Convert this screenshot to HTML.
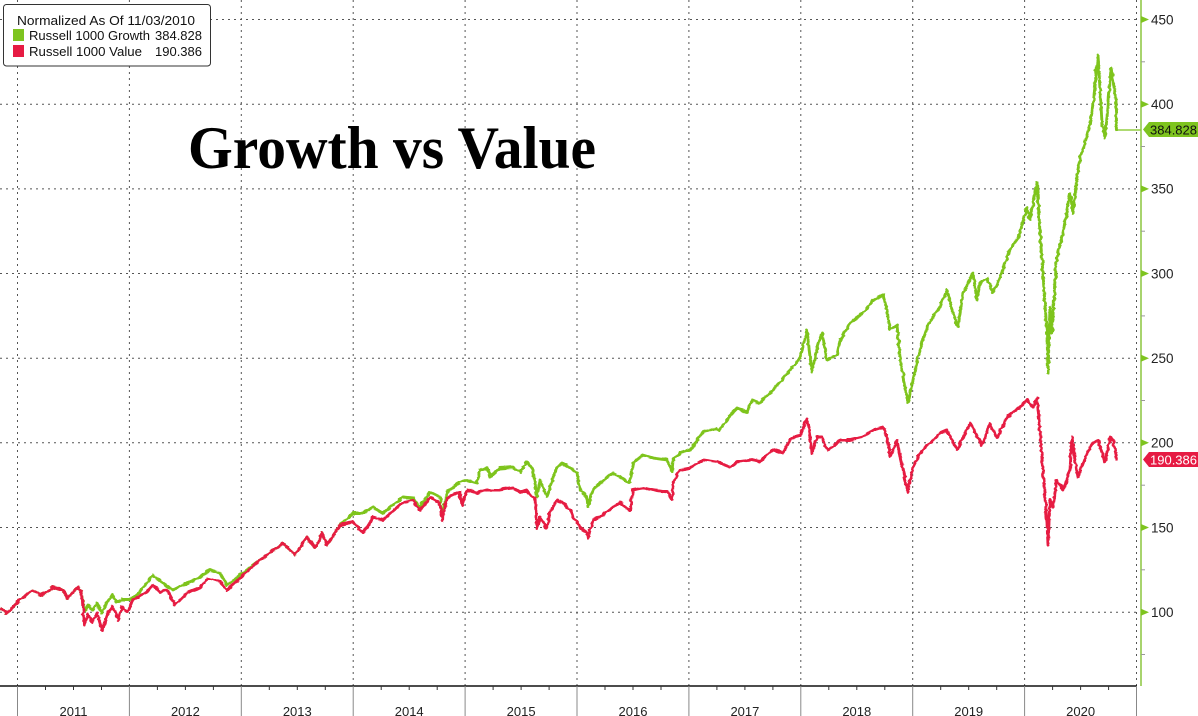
<!DOCTYPE html>
<html><head><meta charset="utf-8"><style>
html,body{margin:0;padding:0;background:#fff;}
svg{display:block;}
text{font-family:"Liberation Sans",sans-serif;}
</style></head><body>
<svg width="1198" height="716" viewBox="0 0 1198 716" xmlns="http://www.w3.org/2000/svg">
<defs>
<filter id="jit" x="-2%" y="-10%" width="104%" height="120%" filterUnits="objectBoundingBox">
<feTurbulence type="fractalNoise" baseFrequency="0.08 0.25" numOctaves="2" seed="4" result="n"/>
<feDisplacementMap in="SourceGraphic" in2="n" scale="3.5" xChannelSelector="R" yChannelSelector="G"/>
</filter>
</defs>
<rect width="1198" height="716" fill="#fff"/>
<!-- horizontal grid -->
<g stroke="#555" stroke-width="1" stroke-dasharray="2 4">
<line x1="0" y1="19.5" x2="1137" y2="19.5"/>
<line x1="0" y1="104.2" x2="1137" y2="104.2"/>
<line x1="0" y1="188.9" x2="1137" y2="188.9"/>
<line x1="0" y1="273.5" x2="1137" y2="273.5"/>
<line x1="0" y1="358.2" x2="1137" y2="358.2"/>
<line x1="0" y1="442.8" x2="1137" y2="442.8"/>
<line x1="0" y1="527.5" x2="1137" y2="527.5"/>
<line x1="0" y1="612.2" x2="1137" y2="612.2"/>
</g>
<!-- vertical grid -->
<g stroke="#555" stroke-width="1" stroke-dasharray="2 4">
<line x1="17.5" y1="0" x2="17.5" y2="686"/>
<line x1="129.4" y1="0" x2="129.4" y2="686"/>
<line x1="241.3" y1="0" x2="241.3" y2="686"/>
<line x1="353.2" y1="0" x2="353.2" y2="686"/>
<line x1="465.1" y1="0" x2="465.1" y2="686"/>
<line x1="577" y1="0" x2="577" y2="686"/>
<line x1="688.9" y1="0" x2="688.9" y2="686"/>
<line x1="800.8" y1="0" x2="800.8" y2="686"/>
<line x1="912.7" y1="0" x2="912.7" y2="686"/>
<line x1="1024.6" y1="0" x2="1024.6" y2="686"/>
<line x1="1136.5" y1="0" x2="1136.5" y2="686"/>
</g>
<!-- title -->
<text x="188" y="168" font-weight="bold" font-size="60" fill="#000" textLength="408" lengthAdjust="spacingAndGlyphs" style="font-family:'Liberation Serif',serif">Growth vs Value</text>

<g filter="url(#jit)">
<!-- green series -->
<polyline fill="none" stroke="#7ec41f" stroke-width="2.9" stroke-linejoin="round" points="0,608 7,613 20,600 33,590 40,595 47,592 53,587 63,590 67,598 73,592 78,587 82,593 84,612 88,605 93,610 97,603 102,613 107,602 112,595 117,602 122,600 130,600 140,592 153,575 163,583 173,590 187,583 200,577 210,570 220,573 227,585 240,575 260,560 263,558 283,543 295,555 307,537 315,548 322,533 327,545 340,525 353,513 363,513 373,507 383,513 403,497 413,498 420,507 430,492 440,497 442,517 447,492 460,482 467,480 477,483 480,470 487,468 490,477 500,468 513,467 520,472 527,462 533,470 537,497 540,480 547,497 550,487 557,467 562,463 570,468 577,473 580,490 587,497 588,507 593,490 600,483 613,473 620,477 630,483 633,463 643,455 653,458 667,460 672,472 673,460 680,453 690,450 703,432 717,428 720,430 730,415 737,408 747,412 752,400 760,403 767,395 773,390 783,378 790,370 800,358 807,330 810,357 812,372 817,347 822,333 827,360 837,355 840,340 850,323 863,313 873,300 883,295 887,310 890,330 897,325 900,357 908,403 913,380 920,348 930,320 940,307 947,290 953,313 958,327 963,293 973,273 977,300 980,283 987,278 993,293 1000,277 1010,250 1020,233 1027,207 1030,220 1037,183 1040,233 1042,260 1047,333 1048,373 1050,307 1052,333 1055,280 1057,257 1063,233 1070,193 1073,213 1077,177 1080,157 1085,143 1090,123 1093,107 1098,55 1102,123 1105,137 1108,107 1111,68 1115,93 1117,130"/>
<!-- red series -->
<polyline fill="none" stroke="#e61b43" stroke-width="2.9" stroke-linejoin="round" points="0,608 7,613 20,600 33,590 40,595 47,592 53,587 63,590 67,598 73,592 78,587 82,593 84,625 88,615 93,622 97,613 102,630 107,615 112,607 115,610 118,620 122,607 127,612 133,600 147,592 153,585 160,592 167,590 175,605 187,593 200,588 208,578 220,582 227,590 240,578 260,560 263,558 283,543 295,555 307,537 315,548 322,533 327,545 340,525 353,522 363,533 373,517 383,520 403,502 413,500 420,510 430,498 440,503 442,520 447,498 460,492 462,505 467,490 477,493 480,492 487,490 500,490 513,488 520,492 527,490 533,497 535,498 537,528 540,517 547,528 550,512 557,500 562,502 570,510 573,517 580,527 587,533 588,538 593,520 600,517 613,507 620,503 630,510 633,490 643,488 653,490 667,492 672,500 673,483 680,470 690,468 703,460 717,462 730,467 737,462 752,460 760,462 767,455 773,450 783,453 790,440 800,435 807,418 810,437 812,453 817,437 822,437 827,450 837,443 840,440 850,440 863,437 873,430 883,427 887,437 890,457 897,440 900,457 908,492 913,467 920,453 930,443 940,433 947,430 957,450 970,423 982,445 990,423 997,438 1007,417 1020,407 1027,400 1033,407 1037,398 1040,430 1043,473 1047,523 1048,545 1050,500 1053,507 1057,480 1063,490 1070,470 1072,437 1075,460 1078,477 1087,453 1093,443 1098,440 1105,462 1110,437 1113,440 1117,460"/>
</g>
<line x1="1117" y1="130" x2="1141" y2="130" stroke="#7ec41f" stroke-width="1.2"/>

<!-- bottom axis -->
<rect x="0" y="687" width="1198" height="29" fill="#fff"/>
<line x1="0" y1="686" x2="1137" y2="686" stroke="#111" stroke-width="1.5"/>
<g stroke="#888" stroke-width="1">
<line x1="17.5" y1="686" x2="17.5" y2="716"/>
<line x1="129.4" y1="686" x2="129.4" y2="716"/>
<line x1="241.3" y1="686" x2="241.3" y2="716"/>
<line x1="353.2" y1="686" x2="353.2" y2="716"/>
<line x1="465.1" y1="686" x2="465.1" y2="716"/>
<line x1="577" y1="686" x2="577" y2="716"/>
<line x1="688.9" y1="686" x2="688.9" y2="716"/>
<line x1="800.8" y1="686" x2="800.8" y2="716"/>
<line x1="912.7" y1="686" x2="912.7" y2="716"/>
<line x1="1024.6" y1="686" x2="1024.6" y2="716"/>
<line x1="1136.5" y1="686" x2="1136.5" y2="716"/>
</g>
<g stroke="#333" stroke-width="1">
<line x1="45.5" y1="686" x2="45.5" y2="690"/><line x1="73.5" y1="686" x2="73.5" y2="690"/><line x1="101.5" y1="686" x2="101.5" y2="690"/>
<line x1="157.4" y1="686" x2="157.4" y2="690"/><line x1="185.4" y1="686" x2="185.4" y2="690"/><line x1="213.4" y1="686" x2="213.4" y2="690"/>
<line x1="269.3" y1="686" x2="269.3" y2="690"/><line x1="297.3" y1="686" x2="297.3" y2="690"/><line x1="325.3" y1="686" x2="325.3" y2="690"/>
<line x1="381.2" y1="686" x2="381.2" y2="690"/><line x1="409.2" y1="686" x2="409.2" y2="690"/><line x1="437.2" y1="686" x2="437.2" y2="690"/>
<line x1="493.1" y1="686" x2="493.1" y2="690"/><line x1="521.1" y1="686" x2="521.1" y2="690"/><line x1="549.1" y1="686" x2="549.1" y2="690"/>
<line x1="605" y1="686" x2="605" y2="690"/><line x1="633" y1="686" x2="633" y2="690"/><line x1="661" y1="686" x2="661" y2="690"/>
<line x1="716.9" y1="686" x2="716.9" y2="690"/><line x1="744.9" y1="686" x2="744.9" y2="690"/><line x1="772.9" y1="686" x2="772.9" y2="690"/>
<line x1="828.8" y1="686" x2="828.8" y2="690"/><line x1="856.8" y1="686" x2="856.8" y2="690"/><line x1="884.8" y1="686" x2="884.8" y2="690"/>
<line x1="940.7" y1="686" x2="940.7" y2="690"/><line x1="968.7" y1="686" x2="968.7" y2="690"/><line x1="996.7" y1="686" x2="996.7" y2="690"/>
<line x1="1052.6" y1="686" x2="1052.6" y2="690"/><line x1="1080.6" y1="686" x2="1080.6" y2="690"/><line x1="1108.6" y1="686" x2="1108.6" y2="690"/>
</g>
<g font-size="13" fill="#222" text-anchor="middle">
<text x="73.5" y="716">2011</text>
<text x="185.4" y="716">2012</text>
<text x="297.3" y="716">2013</text>
<text x="409.2" y="716">2014</text>
<text x="521.1" y="716">2015</text>
<text x="633" y="716">2016</text>
<text x="744.9" y="716">2017</text>
<text x="856.8" y="716">2018</text>
<text x="968.7" y="716">2019</text>
<text x="1080.6" y="716">2020</text>
</g>

<!-- right axis -->
<line x1="1141" y1="0" x2="1141" y2="686" stroke="#8cc63f" stroke-width="1.5"/>
<g stroke="#999" stroke-width="1">
<line x1="1141" y1="61.8" x2="1145" y2="61.8"/>
<line x1="1141" y1="146.5" x2="1145" y2="146.5"/>
<line x1="1141" y1="231.2" x2="1145" y2="231.2"/>
<line x1="1141" y1="315.9" x2="1145" y2="315.9"/>
<line x1="1141" y1="400.5" x2="1145" y2="400.5"/>
<line x1="1141" y1="485.2" x2="1145" y2="485.2"/>
<line x1="1141" y1="569.8" x2="1145" y2="569.8"/>
<line x1="1141" y1="654.5" x2="1145" y2="654.5"/>
</g>
<g fill="#7ec41f">
<polygon points="1141,16 1149,19.5 1141,23"/>
<polygon points="1141,100.7 1149,104.2 1141,107.7"/>
<polygon points="1141,185.4 1149,188.9 1141,192.4"/>
<polygon points="1141,270 1149,273.5 1141,277"/>
<polygon points="1141,354.7 1149,358.2 1141,361.7"/>
<polygon points="1141,439.3 1149,442.8 1141,446.3"/>
<polygon points="1141,524 1149,527.5 1141,531"/>
<polygon points="1141,608.7 1149,612.2 1141,615.7"/>
</g>
<g font-size="13.5" fill="#222">
<text x="1151" y="24.5">450</text>
<text x="1151" y="109">400</text>
<text x="1151" y="193.7">350</text>
<text x="1151" y="278.3">300</text>
<text x="1151" y="363">250</text>
<text x="1151" y="447.6">200</text>
<text x="1151" y="532.3">150</text>
<text x="1151" y="617">100</text>
</g>
<!-- value tags -->
<polygon points="1143,129.5 1149,122 1198,122 1198,137 1149,137" fill="#7ec41f"/>
<text x="1150" y="134.5" font-size="13" fill="#111">384.828</text>
<polygon points="1143,459.5 1149,452 1198,452 1198,467 1149,467" fill="#e61b43"/>
<text x="1150" y="464.5" font-size="13" fill="#fff">190.386</text>

<!-- legend -->
<rect x="3.5" y="4.5" width="207" height="61.5" rx="3" ry="3" fill="#fff" stroke="#333" stroke-width="1"/>
<text x="17" y="25" font-size="13" fill="#111" textLength="178" lengthAdjust="spacingAndGlyphs">Normalized As Of 11/03/2010</text>
<rect x="13" y="29" width="11" height="12" fill="#7ec41f"/>
<text x="29" y="40" font-size="13" fill="#111" textLength="121" lengthAdjust="spacingAndGlyphs">Russell 1000 Growth</text>
<text x="202" y="40" font-size="13" fill="#111" text-anchor="end">384.828</text>
<rect x="13" y="45" width="11" height="12" fill="#e61b43"/>
<text x="29" y="56" font-size="13" fill="#111" textLength="113" lengthAdjust="spacingAndGlyphs">Russell 1000 Value</text>
<text x="202" y="56" font-size="13" fill="#111" text-anchor="end">190.386</text>
</svg>
</body></html>
